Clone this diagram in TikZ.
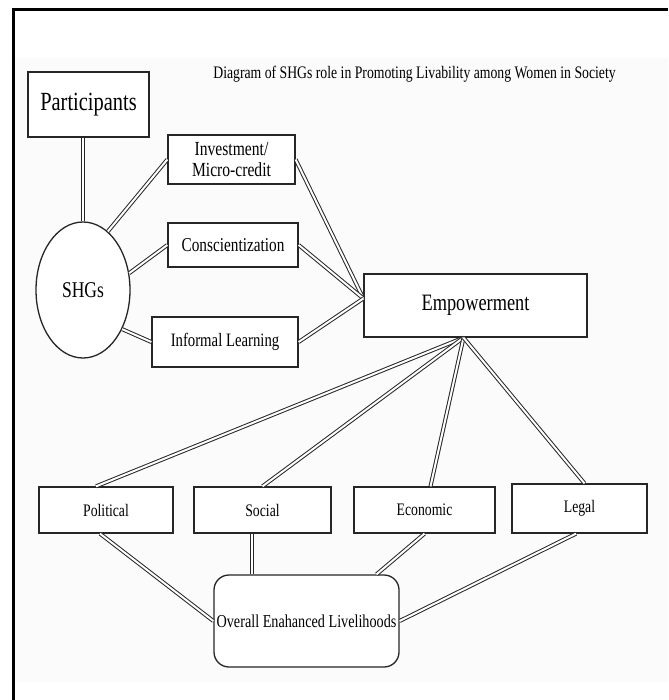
\documentclass[tikz,border=0pt]{standalone}
\usepackage{fontspec}
\newfontfamily\dfont{Liberation Serif}[FakeStretch=0.78]
\usetikzlibrary{shapes.geometric}
\begin{document}
\begin{tikzpicture}[x=1pt,y=-1pt,
  box/.style={draw=black!85, line width=1.3pt, fill=white, inner sep=0pt, align=center},
  link/.style={draw=black!85, double=white, line width=1pt, double distance=2pt},
  fa/.style={font=\dfont\fontsize{#1}{#1}\selectfont}
]
\useasboundingbox (0,0) rectangle (668,700);
\fill[white] (0,0) rectangle (668,700);
\fill[black!1.5] (15,58) rectangle (668,682);
\draw[line width=3pt] (13,700) -- (13,10) -- (668,10);

\node[fa=17.6] (title) at (414.5,74) {Diagram of SHGs role in Promoting Livability among Women in Society};

\node[box, fa=26.2, minimum width=121pt, minimum height=65pt] (part) at (88.5,104.5) {Participants};
\node[box, ellipse, fa=22.5, minimum width=94pt, minimum height=136pt] (shg) at (83,290) {SHGs};
\node[box, font=\dfont\fontsize{20}{20.5}\selectfont, minimum width=127pt, minimum height=49pt] (inv) at (231.5,159.5) {Investment/\\Micro-credit};
\node[box, fa=19.6, minimum width=130pt, minimum height=44pt] (con) at (233,245) {Conscientization};
\node[box, fa=18.9, minimum width=146pt, minimum height=50pt] (inf) at (225,342) {Informal Learning};
\node[box, fa=23.5, minimum width=223pt, minimum height=63pt] (emp) at (475.5,305.5) {\raisebox{-5pt}{Empowerment}};

\node[box, fa=17.6, minimum width=134pt, minimum height=46pt] (pol) at (106,510) {Political};
\node[box, fa=17.6, minimum width=137pt, minimum height=46pt] (soc) at (262.5,510) {Social};
\node[box, fa=17.6, minimum width=141pt, minimum height=46pt] (eco) at (424.5,510) {Economic};
\node[box, fa=17.6, minimum width=135pt, minimum height=49pt] (leg) at (579.5,508.5) {Legal};
\node[box, fa=18.2, rounded corners=15pt, minimum width=185pt, minimum height=92pt] (ovr) at (306.5,621) {Overall Enahanced Livelihoods};

\draw[link] ([xshift=-5.5pt]part.south) -- (shg.north);
\draw[link] (shg.67) -- (inv.west);
\draw[link] (shg.20) -- (con.west);
\draw[link] (shg.-45) -- (inf.west);
\draw[link] (inv.east) -- ([yshift=7pt]emp.west);
\draw[link] (con.east) -- ([yshift=7pt]emp.west);
\draw[link] (inf.east) -- ([yshift=7pt]emp.west);
\draw[link] ([xshift=-12pt]emp.south) -- ([xshift=-10pt]pol.north);
\draw[link] ([xshift=-12pt]emp.south) -- (soc.north);
\draw[link] ([xshift=-12pt]emp.south) -- ([xshift=6pt]eco.north);
\draw[link] ([xshift=-12pt]emp.south) -- ([xshift=5pt]leg.north);
\draw[link] ([xshift=-6pt]pol.south) -- (ovr.west);
\draw[link] ([xshift=-10.5pt]soc.south) -- ([xshift=-10.5pt]soc.south |- ovr.north);
\draw[link] (eco.south) -- ([xshift=70pt]ovr.north);
\draw[link] ([xshift=-3.5pt]leg.south) -- (ovr.east);
\end{tikzpicture}
\end{document}
